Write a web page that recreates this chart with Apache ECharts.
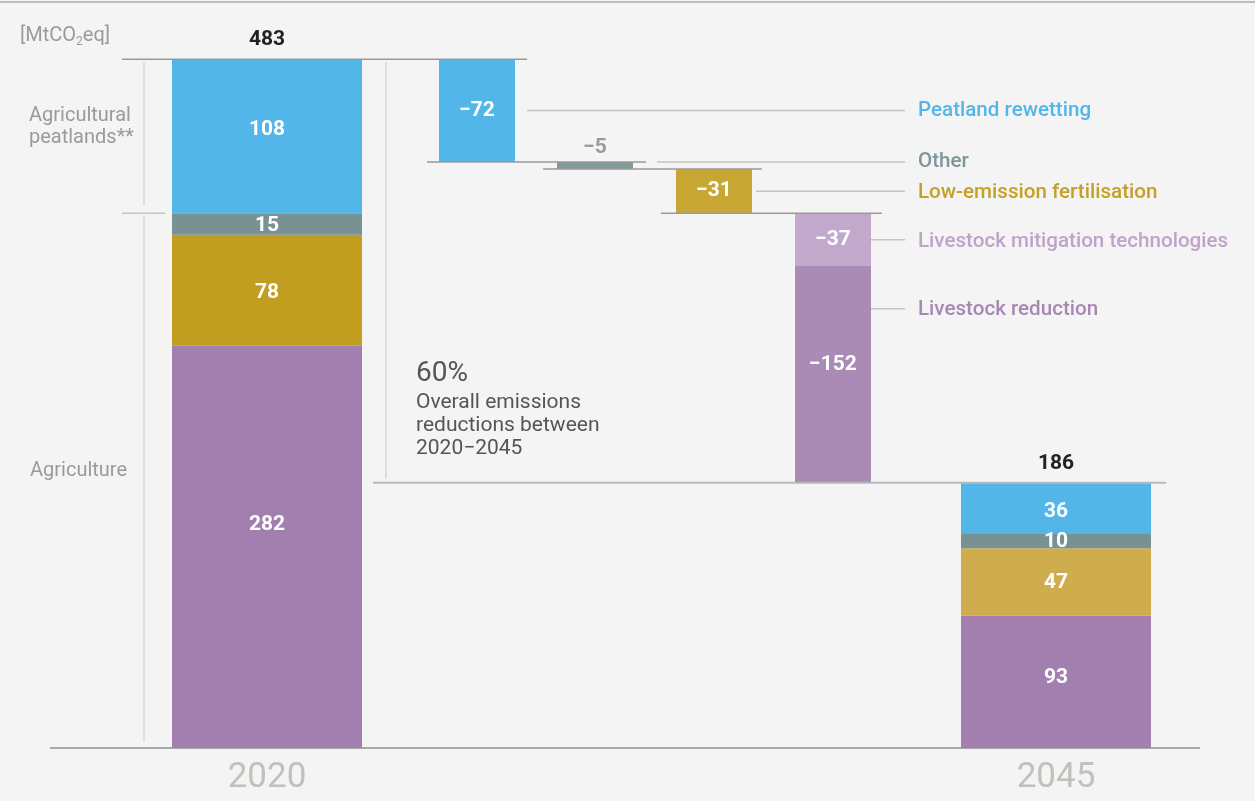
<!DOCTYPE html>
<html>
<head>
<meta charset="utf-8">
<script src="https://cdn.jsdelivr.net/npm/echarts@6/dist/echarts.min.js"></script>
<style>
  html, body { margin: 0; padding: 0; background: #f4f4f4; }
  #chart { width: 1255px; height: 801px; }
</style>
</head>
<body>
<div id="chart"></div>
<script>
// ---------------- DATA ----------------
const years = ['2020', '2045'];
const totals = [483, 186];
// stacked segments, bottom to top
const sectors = ['Agriculture: livestock', 'Agriculture: fertilisation', 'Agriculture: other', 'Agricultural peatlands'];
const emissions2020 = [282, 78, 15, 108];
const emissions2045 = [93, 47, 10, 36];
// reduction levers, in waterfall order
const levers = ['Peatland rewetting', 'Other', 'Low-emission fertilisation', 'Livestock mitigation technologies', 'Livestock reduction'];
const leverValues = [-72, -5, -31, -37, -152];
const reductionShare = '60%';

// ---------------- LAYOUT / STYLE ----------------
const FONT = 'Roboto, "Noto Sans", sans-serif';
const pos = { x2020: 21.7, x2045: 100.6, wide: 19, narrow: 7.6, levers: [42.7, 54.5, 66.4, 78.3, 78.3] };
const colors2020 = ['#a27fae', '#c19e20', '#789294', '#52b6e8'];
const colors2045 = ['#a27fae', '#cfad4e', '#789294', '#52b6e8'];
const leverColors = ['#52b6e8', '#7f9a9b', '#c8a634', '#c2a9cc', '#a98bb6'];
const leverTextColors = ['#52b6e8', '#7f9698', '#c4a026', '#bfa3cb', '#a987b5'];
const leverOutsideLabel = [false, true, false, false, false];
// vertical label nudges in px (2020 stack, levers, 2045 stack)
const labelNudge2020 = [-22, 2, 2, -6];
const labelNudgeLevers = [0, 0, 0, 0, -10];
const labelNudge2045 = [-4, 1, 1, 3];

function fmt(v) { return v < 0 ? '\u2212' + Math.abs(v) : String(v); }

// build bar rectangles from data
const bars = [];
function addStack(xc, vals, cols, nudges) {
  let base = 0;
  vals.forEach((v, i) => {
    bars.push({ value: [xc, pos.wide, base, base + v], color: cols[i], label: fmt(v), outside: false, nudge: nudges[i] });
    base += v;
  });
}
addStack(pos.x2020, emissions2020, colors2020, labelNudge2020);
let running = totals[0];
leverValues.forEach((v, i) => {
  bars.push({ value: [pos.levers[i], pos.narrow, running + v, running], color: leverColors[i], label: fmt(v), outside: leverOutsideLabel[i], nudge: labelNudgeLevers[i] });
  running += v;
});
addStack(pos.x2045, emissions2045, colors2045, labelNudge2045);

// waterfall levels
const levels = [totals[0]];
leverValues.forEach(v => levels.push(levels[levels.length - 1] + v));

const chart = echarts.init(document.getElementById('chart'));

function barRender(params, api) {
  const b = bars[params.dataIndex];
  const xc = api.value(0), w = api.value(1), lo = api.value(2), hi = api.value(3);
  const p0 = api.coord([xc - w / 2, hi]);
  const p1 = api.coord([xc + w / 2, lo]);
  const children = [{
    type: 'rect',
    shape: { x: p0[0], y: p0[1], width: p1[0] - p0[0], height: p1[1] - p0[1] },
    style: { fill: b.color }
  }];
  const cx = (p0[0] + p1[0]) / 2;
  if (b.outside) {
    children.push({ type: 'text', z2: 5, style: { text: b.label, x: cx, y: p0[1] - 14, align: 'center', verticalAlign: 'middle', fill: '#9a9a9a', fontSize: 21, fontWeight: 'bold', fontFamily: FONT } });
  } else {
    children.push({ type: 'text', z2: 5, style: { text: b.label, x: cx, y: (p0[1] + p1[1]) / 2 + b.nudge, align: 'center', verticalAlign: 'middle', fill: '#ffffff', fontSize: 21, fontWeight: 'bold', fontFamily: FONT } });
  }
  return { type: 'group', children };
}

function annoRender(params, api) {
  const c = (x, y) => api.coord([x, y]);
  const line = (x1, y1, x2, y2, stroke, lw) => {
    const a = c(x1, y1), b = c(x2, y2);
    return { type: 'line', shape: { x1: a[0], y1: a[1], x2: b[0], y2: b[1] }, style: { stroke, lineWidth: lw || 1.5 } };
  };
  const txt = (text, p, opts) => ({ type: 'text', style: Object.assign({ text, x: p[0], y: p[1], fontFamily: FONT }, opts) });
  const ch = [];
  const dark = '#9a9a9a', light = '#c4c4c4';
  // waterfall connectors
  ch.push(line(7.2, levels[0], 47.7, levels[0], dark));
  ch.push(line(37.7, levels[1], 59.6, levels[1], dark));
  ch.push(line(49.3, levels[2], 71.2, levels[2], dark));
  ch.push(line(61.1, levels[3], 83.2, levels[3], dark));
  ch.push(line(32.3, totals[1], 111.6, totals[1], '#b8b8b8', 2));
  ch.push(line(0, 0, 115, 0, '#8f8f8f', 1.5));
  // brackets on the left
  const split = emissions2020[0] + emissions2020[1] + emissions2020[2];
  ch.push(line(7.2, split, 11.5, split, light));
  ch.push(line(9.4, totals[0] - 2, 9.4, split + 5.5, '#cfcfcf', 1.2));
  ch.push(line(9.4, split - 1.5, 9.4, 4.2, '#cfcfcf', 1.2));
  ch.push(line(33.6, totals[0] - 2, 33.6, totals[1] + 3, '#cfcfcf', 1.2));
  // callouts to lever names
  const callY = [(levels[0] + levels[1]) / 2, levels[1], (levels[2] + levels[3]) / 2, (levels[3] + levels[4]) / 2, levels[4] - 30];
  const callX = [47.7, 60.7, 70.6, 82.1, 82.1];
  const textShift = [0, 0, 2, 2, 1];
  callY.forEach((y, i) => {
    ch.push(line(callX[i], y, 85.5, y, light));
    const p = c(86.8, y);
    ch.push(txt(levers[i], [p[0], p[1] + textShift[i]], { align: 'left', verticalAlign: 'middle', fill: leverTextColors[i], fontSize: 20.6, fontWeight: 500 }));
  });
  // totals
  ch.push(txt(String(totals[0]), [c(pos.x2020, totals[0])[0], c(pos.x2020, totals[0])[1] - 19], { align: 'center', verticalAlign: 'middle', fill: '#222', fontSize: 21, fontWeight: 'bold' }));
  ch.push(txt(String(totals[1]), [c(pos.x2045, totals[1])[0], c(pos.x2045, totals[1])[1] - 19], { align: 'center', verticalAlign: 'middle', fill: '#222', fontSize: 21, fontWeight: 'bold' }));
  // year labels
  ch.push(txt(years[0], [c(pos.x2020, 0)[0], c(pos.x2020, 0)[1] + 30], { align: 'center', verticalAlign: 'middle', fill: '#c2c0ba', fontSize: 35 }));
  ch.push(txt(years[1], [c(pos.x2045, 0)[0], c(pos.x2045, 0)[1] + 30], { align: 'center', verticalAlign: 'middle', fill: '#c2c0ba', fontSize: 35 }));
  return { type: 'group', children: ch };
}

chart.setOption({
  backgroundColor: '#f4f4f4',
  animation: false,
  grid: { left: 50, right: 55, top: 35, bottom: 53 },
  xAxis: { type: 'value', min: 0, max: 115, show: false },
  yAxis: { type: 'value', min: 0, max: 500, show: false },
  graphic: [
    { type: 'rect', shape: { x: 0, y: 1, width: 1255, height: 2 }, style: { fill: '#bdbdbd' }, silent: true },
    { type: 'text', left: 20, top: 26, style: { text: '[MtCO{s|2}eq]', fill: '#9a9a9a', fontSize: 20, fontFamily: FONT,
        rich: { s: { fontSize: 12, fill: '#9a9a9a', verticalAlign: 'bottom', padding: [11, 0, 0, 0], fontFamily: FONT } } } },
    { type: 'text', left: 29, top: 105, style: { text: 'Agricultural\npeatlands**', fill: '#9a9a9a', fontSize: 20, lineHeight: 22, fontFamily: FONT } },
    { type: 'text', left: 30, top: 461, style: { text: 'Agriculture', fill: '#9a9a9a', fontSize: 20, fontFamily: FONT } },
    { type: 'text', left: 416, top: 360, style: { text: reductionShare, fill: '#555', fontSize: 28, fontFamily: FONT } },
    { type: 'text', left: 416, top: 391, style: { text: 'Overall emissions\nreductions between\n2020\u22122045', fill: '#555', fontSize: 21, lineHeight: 23, fontFamily: FONT } }
  ],
  series: [
    { type: 'custom', name: 'bars', renderItem: barRender, data: bars.map(b => b.value), clip: false, silent: true },
    { type: 'custom', name: 'annotations', renderItem: annoRender, data: [[0, 0]], clip: false, silent: true, z: 3 }
  ]
});
</script>
</body>
</html>
